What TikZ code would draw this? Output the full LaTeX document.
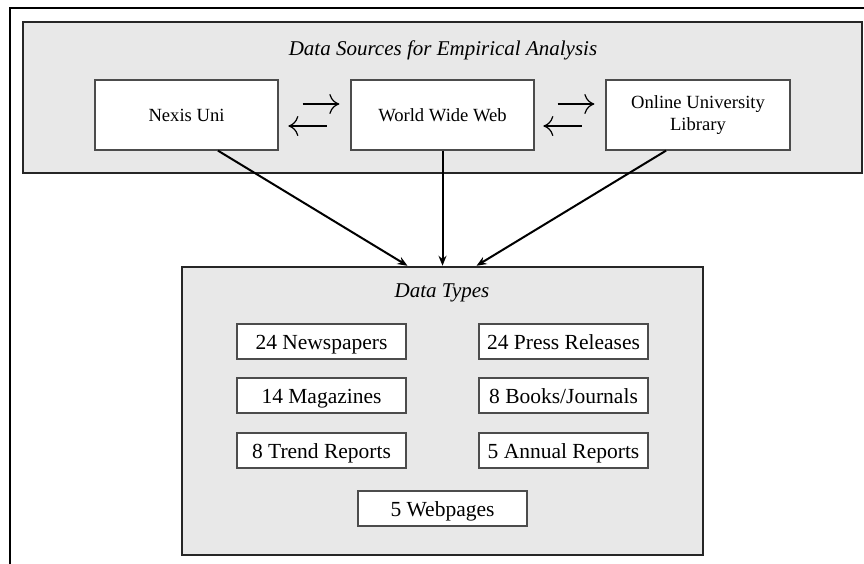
\documentclass[tikz,border=0pt]{standalone}
\usepackage{fontspec}
\setmainfont{Liberation Serif}
\usetikzlibrary{arrows.meta}

\tikzset{
  frame/.style={line width=2pt, black},
  panel/.style={draw=black!85, line width=2.5pt, fill=gray!18, rectangle},
  srcbox/.style={draw=black!70, line width=1.3pt, fill=white, rectangle,
    minimum width=183pt, minimum height=70pt, align=center,
    font=\fontsize{18.6}{22}\selectfont},
  typebox/.style={draw=black!70, line width=1.3pt, fill=white, rectangle,
    minimum width=169pt, minimum height=35pt, inner sep=0pt,
    text height=16.5pt, text depth=0pt,
    font=\fontsize{21.5}{24}\selectfont},
  paneltitle/.style={font=\fontsize{21}{24}\selectfont\itshape},
  flow/.style={line width=2pt, -{Stealth[length=10pt,width=8pt]}},
  swap/.style={line width=1.2pt, -{To[length=10pt,width=20pt]}}
}

\begin{document}
\begin{tikzpicture}[x=1pt,y=-1pt]
  \useasboundingbox (0,0) rectangle (864,563);

  % open frame along the top and left
  \draw[frame] (10,570) -- (10,8) -- (870,8);

  % sources panel
  \node[panel, minimum width=839pt, minimum height=151pt] (srcpanel) at (442.5,97.5) {};
  \node[paneltitle] (srctitle) at (443,50) {Data Sources for Empirical Analysis};
  \node[srcbox] (nexis) at (186.5,115) {Nexis Uni};
  \node[srcbox] (www) at (442.5,115) {World Wide Web};
  \node[srcbox, minimum width=184pt] (oul) at (698,115) {Online University\\Library};

  % exchange arrows between neighbouring sources
  \draw[swap] ([xshift=24pt,yshift=11pt]nexis.east) -- ([xshift=-11pt,yshift=11pt]www.west);
  \draw[swap] ([xshift=48pt,yshift=-11pt]nexis.east) -- ([xshift=-62pt,yshift=-11pt]www.west);
  \draw[swap] ([xshift=23pt,yshift=11pt]www.east) -- ([xshift=-11pt,yshift=11pt]oul.west);
  \draw[swap] ([xshift=47pt,yshift=-11pt]www.east) -- ([xshift=-62pt,yshift=-11pt]oul.west);

  % data types panel
  \node[panel, minimum width=521pt, minimum height=288pt] (types) at (442.5,411) {};
  \node[paneltitle] (typestitle) at (442,293) {Data Types};

  \node[typebox] (news) at (321.5,341.5) {24 Newspapers};
  \node[typebox] (press) at (563.5,341.5) {24 Press Releases};
  \node[typebox] (mags) at (321.5,395.5) {14 Magazines};
  \node[typebox] (books) at (563.5,395.5) {8 Books/Journals};
  \node[typebox] (trend) at (321.5,450.5) {8 Trend Reports};
  \node[typebox] (annual) at (563.5,450.5) {5 Annual Reports};
  \node[typebox] (web) at (442.5,508.5) {5 Webpages};

  % flows from the sources into the data types
  \draw[flow] ([xshift=31.5pt]nexis.south) -- ([xshift=-35pt]types.north);
  \draw[flow] (www.south) -- (types.north);
  \draw[flow] ([xshift=-32pt]oul.south) -- ([xshift=34pt]types.north);
\end{tikzpicture}
\end{document}
